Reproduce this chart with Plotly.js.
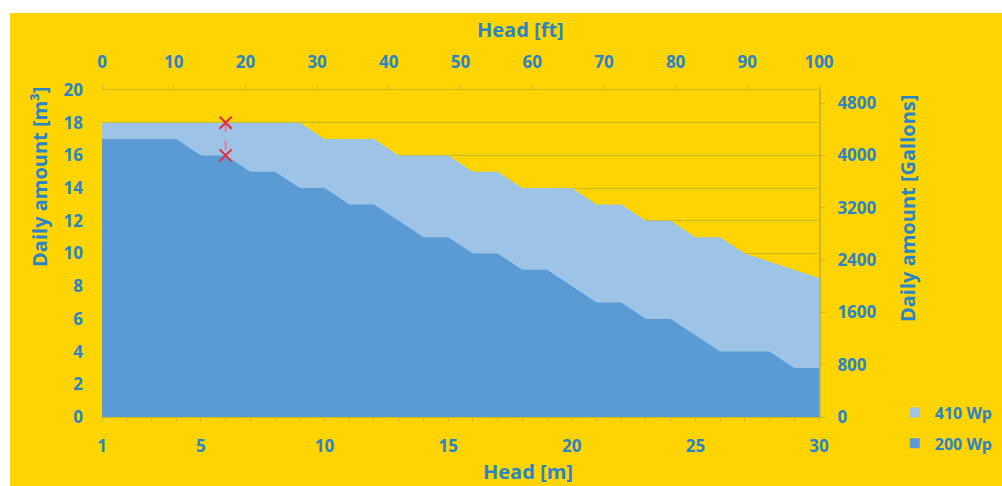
<!DOCTYPE html>
<html>
<head>
<meta charset="utf-8">
<script src="https://cdn.plot.ly/plotly-3.0.1.min.js"></script>
<style>html,body{margin:0;padding:0;background:#fff;}#chart{width:1002px;height:486px;}</style>
</head>
<body>
<div id="chart"></div>
<script>
// Data
const headM = [1,2,3,4,5,6,7,8,9,10,11,12,13,14,15,16,17,18,19,20,21,22,23,24,25,26,27,28,29,30];
const amount410Wp = [18,18,18,18,18,18,18,18,18,17,17,17,16,16,16,15,15,14,14,14,13,13,12,12,11,11,10,9.5,9,8.5];
const amount200Wp = [17,17,17,17,16,16,15,15,14,14,13,13,12,11,11,10,10,9,9,8,7,7,6,6,5,4,4,4,3,3];
const markerHead = [6,6];
const markerAmount = [18,16];
const bottomTicks = [1,5,10,15,20,25,30];
const rightTicks = [0,800,1600,2400,3200,4000,4800];
const seriesNames = ['410 Wp','200 Wp'];

const YELLOW = '#FFD400';
const LIGHT = '#9DC3E6';
const DARK = '#5B9BD5';
const TXT = '#2A84C6';
const OLIVE = '#CDB91A';
const FONT = 'Open Sans, Noto Sans, sans-serif';

const traces = [
  {x: headM, y: amount410Wp, type:'scatter', mode:'lines', fill:'tozeroy', fillcolor: LIGHT,
   line:{width:0, color: LIGHT}, showlegend:false, hoverinfo:'x+y', name: seriesNames[0]},
  {x: headM, y: amount200Wp, type:'scatter', mode:'lines', fill:'tozeroy', fillcolor: DARK,
   line:{width:0, color: DARK}, showlegend:false, hoverinfo:'x+y', name: seriesNames[1]},
  {x: markerHead, y: markerAmount, type:'scatter', mode:'lines', line:{color:'#E57C91', width:2, dash:'dash'},
   showlegend:false, hoverinfo:'skip'},
  {x: markerHead, y: markerAmount, type:'scatter', mode:'markers',
   marker:{symbol:'x-thin', size:12, line:{width:2, color:'#E8283A'}, color:'#E8283A'},
   showlegend:false},
  // legend entries
  {x:[null], y:[null], type:'scatter', mode:'markers', name: seriesNames[0], legendgroup:'a',
   marker:{symbol:'square', size:10, color: LIGHT}},
  {x:[null], y:[null], type:'scatter', mode:'markers', name: seriesNames[1], legendgroup:'b',
   marker:{symbol:'square', size:10, color: DARK}},
  // dummy traces to activate secondary axes
  {x:[0,100], y:[null,null], xaxis:'x2', yaxis:'y', type:'scatter', mode:'lines', showlegend:false, hoverinfo:'skip'},
  {x:[1,30], y:[null,null], xaxis:'x', yaxis:'y2', type:'scatter', mode:'lines', showlegend:false, hoverinfo:'skip'}
];

const tickFont = {family: FONT, size: 17, color: TXT, weight: 700};
const legendFont = {family: FONT, size: 16, color: TXT, weight: 700};
const titleFont = {family: FONT, size: 20, color: TXT, weight: 700};

const layout = {
  width: 1002, height: 486,
  margin: {l:102, r:183, t:90, b:69, pad:0},
  paper_bgcolor: '#FFFFFF',
  plot_bgcolor: YELLOW,
  showlegend: true,
  legend: {xref:'container', yref:'container', x: 0.893, xanchor:'left', y: 0.186, yanchor:'top', font: legendFont,
           bgcolor:'rgba(0,0,0,0)', tracegroupgap: 7, itemwidth: 30},
  xaxis: {range:[1,30], tickmode:'array', tickvals: bottomTicks, ticks:'outside', ticklen:4,
          tickcolor: OLIVE, showline:true, linecolor: OLIVE, linewidth:1, showgrid:false, zeroline:false,
          tickfont: tickFont, ticklabelstandoff: 10,
          minor:{tickmode:'linear', tick0:1, dtick:1, ticks:'outside', ticklen:4, tickcolor: OLIVE}},
  xaxis2: {range:[0,100], overlaying:'x', side:'top', dtick:10, tick0:0, ticks:'outside', ticklen:4,
           tickcolor: OLIVE, showline:true, linecolor: OLIVE, showgrid:false, zeroline:false,
           tickfont: tickFont, ticklabelstandoff: 10},
  yaxis: {range:[0,20], dtick:2, tick0:0, showgrid:true, gridcolor: OLIVE, gridwidth:1, zeroline:false,
          showline:false, ticks:'', tickfont: tickFont, ticklabelstandoff: 18},
  yaxis2: {range:[0,5000], overlaying:'y', side:'right', tickmode:'array', tickvals: rightTicks,
           ticks:'outside', ticklen:4, tickcolor: OLIVE, showline:true, linecolor: OLIVE, linewidth:2,
           showgrid:false, zeroline:false, tickfont: tickFont, ticklabelstandoff: 9},
  shapes: [
    {type:'rect', xref:'paper', yref:'paper', x0:-0.1283, x1:1.3, y0:-0.25, y1:1.2355,
     fillcolor: YELLOW, line:{width:0}, layer:'below'}
  ],
  annotations: [
    {text:'Head [ft]', xref:'paper', yref:'paper', x:0.583, y:1.1835, showarrow:false, font: titleFont,
     xanchor:'center', yanchor:'middle'},
    {text:'Head [m]', xref:'paper', yref:'paper', x:0.594, y:-0.168, showarrow:false, font: titleFont,
     xanchor:'center', yanchor:'middle'},
    {text:'Daily amount [m³]', xref:'paper', yref:'paper', x:-0.0865, y:0.734, textangle:-90, showarrow:false,
     font: titleFont, xanchor:'center', yanchor:'middle'},
    {text:'Daily amount [Gallons]', xref:'paper', yref:'paper', x:1.1227, y:0.639, textangle:-90, showarrow:false,
     font: titleFont, xanchor:'center', yanchor:'middle'}
  ]
};

Plotly.newPlot('chart', traces, layout, {displayModeBar:false, staticPlot:true});
</script>
</body>
</html>
